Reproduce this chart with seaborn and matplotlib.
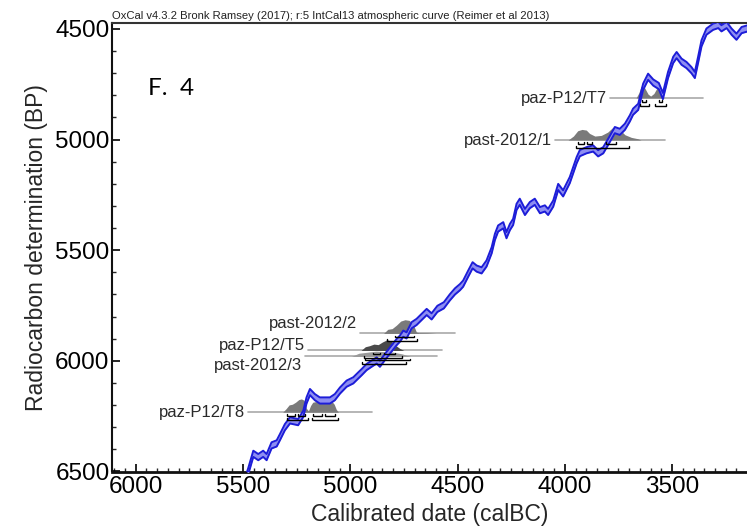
import numpy as np
import pandas as pd
import matplotlib
matplotlib.use("Agg")
import matplotlib.pyplot as plt
import seaborn as sns

# ---------------- data ----------------
curve_calbc = [5500, 5476, 5452, 5429, 5406, 5390, 5367, 5343, 5328, 5305, 5281, 5243, 5219, 5204,
               5188, 5165, 5142, 5095, 5072, 5048, 5017, 4986, 4963, 4947, 4924, 4901, 4877, 4862,
               4839, 4815, 4784, 4769, 4753, 4738, 4714, 4691, 4668, 4644, 4621, 4594, 4564, 4536,
               4512, 4489, 4474, 4450, 4430, 4411, 4388, 4365, 4341, 4326, 4311, 4287, 4272, 4256,
               4241, 4225, 4210, 4186, 4163, 4140, 4116, 4093, 4078, 4054, 4031, 4008, 3977, 3945,
               3930, 3899, 3868, 3845, 3821, 3798, 3767, 3744, 3720, 3697, 3682, 3658, 3635, 3612,
               3588, 3562, 3543, 3519, 3495, 3479, 3456, 3433, 3410, 3394, 3379, 3363, 3340, 3309,
               3285, 3270, 3246, 3223, 3200, 3176, 3140]
curve_bp = [6570, 6500, 6420, 6435, 6420, 6435, 6382, 6373, 6345, 6300, 6269, 6277, 6239, 6179,
            6141, 6164, 6179, 6179, 6164, 6134, 6103, 6088, 6066, 6051, 6028, 6013, 5998, 6013,
            5983, 5953, 5915, 5900, 5877, 5885, 5839, 5824, 5802, 5779, 5799, 5765, 5749, 5713,
            5686, 5667, 5651, 5605, 5568, 5583, 5591, 5560, 5500, 5440, 5402, 5387, 5432, 5395,
            5372, 5304, 5281, 5327, 5296, 5281, 5319, 5311, 5327, 5289, 5214, 5243, 5183, 5093,
            5061, 5048, 5040, 5062, 5048, 5010, 4957, 4965, 4942, 4904, 4874, 4852, 4761, 4716,
            4742, 4758, 4803, 4708, 4640, 4618, 4648, 4663, 4686, 4708, 4640, 4565, 4512, 4490,
            4482, 4497, 4482, 4512, 4535, 4505, 4495]
curve_sigma = 14

sample_names = ["paz-P12/T7", "past-2012/1", "past-2012/2", "paz-P12/T5", "past-2012/3", "paz-P12/T8"]
sample_bp = [4812, 5002, 5876, 5953, 5980, 6232]
line_start = [3790, 4046, 4955, 5197, 5212, 5477]
line_end = [3357, 3534, 4512, 4574, 4598, 4899]

dist_years = [
    [3668, 3655, 3645, 3635, 3625, 3612, 3600, 3585, 3570, 3558, 3548, 3538],
    [3985, 3960, 3940, 3920, 3900, 3885, 3860, 3830, 3800, 3780, 3765, 3745, 3720, 3690, 3660, 3645],
    [4845, 4825, 4805, 4785, 4765, 4745, 4725, 4705, 4692, 4680, 4640, 4600],
    [4950, 4930, 4910, 4890, 4870, 4850, 4830, 4810, 4790, 4770, 4750],
    [4995, 4960, 4920, 4880, 4840, 4800, 4760, 4720],
    [5315, 5300, 5285, 5270, 5255, 5240, 5228, 5215, 5205, 5195, 5185, 5175, 5160, 5140,
     5120, 5100, 5085, 5075, 5065, 5055],
]
dist_dens = [
    [0, 0.4, 0.9, 1.0, 0.7, 0.3, 0.15, 0.35, 0.8, 0.9, 0.4, 0],
    [0, 0.3, 0.7, 0.8, 0.75, 0.5, 0.3, 0.35, 0.6, 0.9, 1.0, 0.8, 0.4, 0.2, 0.1, 0],
    [0, 0.3, 0.35, 0.6, 0.9, 1.0, 0.95, 0.6, 0.1, 0.05, 0.04, 0],
    [0, 0.35, 0.45, 0.6, 0.55, 0.8, 1.0, 0.9, 0.5, 0.2, 0],
    [0, 0.6, 0.8, 1.0, 0.9, 0.8, 0.5, 0],
    [0, 0.25, 0.55, 0.6, 0.75, 0.95, 1.0, 0.9, 0.3, 0.1, 0.5, 0.75, 0.8, 0.75,
     0.72, 0.75, 0.8, 0.6, 0.2, 0],
]
dist_height = [58, 60, 62, 48, 24, 60]
dist_color = ["#7a7a7a", "#7a7a7a", "#7a7a7a", "#4a4a4a", "#9a9a9a", "#7a7a7a"]

range68 = [
    [(3640, 3622), (3562, 3545)],
    [(3940, 3910), (3895, 3872), (3810, 3760)],
    [(4790, 4705)],
    [(4895, 4862), (4842, 4790)],
    [(4932, 4722)],
    [(5297, 5258), (5243, 5212), (5174, 5132), (5118, 5072)],
]
range95 = [
    [(3650, 3606), (3582, 3528)],
    [(3950, 3700)],
    [(4830, 4690)],
    [(4935, 4760)],
    [(4947, 4738)],
    [(5297, 5196), (5180, 5056)],
]
label_dy = [0, 0, -45, -24, 40, 0]

title_text = "OxCal v4.3.2 Bronk Ramsey (2017); r:5 IntCal13 atmospheric curve (Reimer et al 2013)"

# ---------------- style ----------------
sns.set_style("ticks")
plt.rcParams["font.family"] = ["Liberation Sans", "DejaVu Sans"]

fig = plt.figure(figsize=(7.47, 5.29), dpi=100)
ax = fig.add_axes([111.7 / 747, (529 - 471.5) / 529, (747 - 111.7) / 747, (471.5 - 23) / 529])

cx = np.array(curve_calbc, dtype=float)
cy = np.array(curve_bp, dtype=float)
df = pd.DataFrame({"calBC": cx, "upper": cy - curve_sigma, "lower": cy + curve_sigma})

# distributions and sample lines
for i in range(len(sample_names)):
    yb = sample_bp[i]
    ax.plot([line_start[i], line_end[i]], [yb, yb], color="#a9a9a9", lw=1.2, zorder=2)
    dy = np.array(dist_years[i], dtype=float)
    dd = np.array(dist_dens[i], dtype=float) * dist_height[i]
    ax.fill_between(dy, yb, yb - dd, color=dist_color[i], lw=0, zorder=2)
    ax.text(line_start[i] + 15, yb + label_dy[i], sample_names[i], ha="right", va="center",
            fontsize=12, color="#2a2a2a", zorder=5)

# calibration curve band
ax.fill_between(df["calBC"], df["upper"], df["lower"], color="#8e8ef2", lw=0, zorder=3)
sns.lineplot(data=df, x="calBC", y="upper", sort=False, estimator=None, color="#1d1dd8",
             lw=1.4, ax=ax, zorder=3.5)
sns.lineplot(data=df, x="calBC", y="lower", sort=False, estimator=None, color="#1d1dd8",
             lw=1.4, ax=ax, zorder=3.5)

# probability range brackets
def bracket(x0, x1, y):
    ax.plot([x0, x0, x1, x1], [y - 8, y, y, y - 8], color="black", lw=1.0, zorder=4,
            solid_joinstyle="miter")

for i in range(len(sample_names)):
    yb = sample_bp[i]
    for (a, b) in range68[i]:
        bracket(a, b, yb + 18)
    for (a, b) in range95[i]:
        bracket(a, b, yb + 34)

# axes
ax.set_xlim(6112, 3151)
ax.set_ylim(6500, 4473)
ax.set_xticks([6000, 5500, 5000, 4500, 4000, 3500])
ax.set_xticks(np.arange(3200, 6101, 50), minor=True)
ax.set_yticks([4500, 5000, 5500, 6000, 6500])
ax.set_yticks(np.arange(4500, 6501, 100), minor=True)
ax.tick_params(axis="both", which="major", direction="in", length=6, width=1.2, labelsize=17.5,
               colors="black")
ax.tick_params(axis="both", which="minor", direction="in", length=3, width=1.0)
ax.tick_params(axis="x", which="both", pad=3)
ax.tick_params(axis="y", which="both", pad=1.5)
ax.set_xlabel("Calibrated date (calBC)", fontsize=16.5, labelpad=4)
ax.set_ylabel("Radiocarbon determination (BP)", fontsize=16.5, labelpad=5)

for s in ["left", "bottom", "top"]:
    ax.spines[s].set_visible(True)
    ax.spines[s].set_color("#111111")
ax.spines["bottom"].set_linewidth(2.0)
ax.spines["left"].set_linewidth(1.5)
ax.spines["top"].set_linewidth(1.5)
ax.spines["top"].set_color("#333333")
ax.spines["right"].set_visible(False)

ax.text(0.0, 1.004, title_text, transform=ax.transAxes, ha="left", va="bottom", fontsize=8.1,
        color="#222222")
ax.text(5945, 4768, "F.  4", ha="left", va="center", fontsize=17.5,
        family=["Lato", "DejaVu Sans"], color="black")

fig.savefig("out.png", dpi=100)
